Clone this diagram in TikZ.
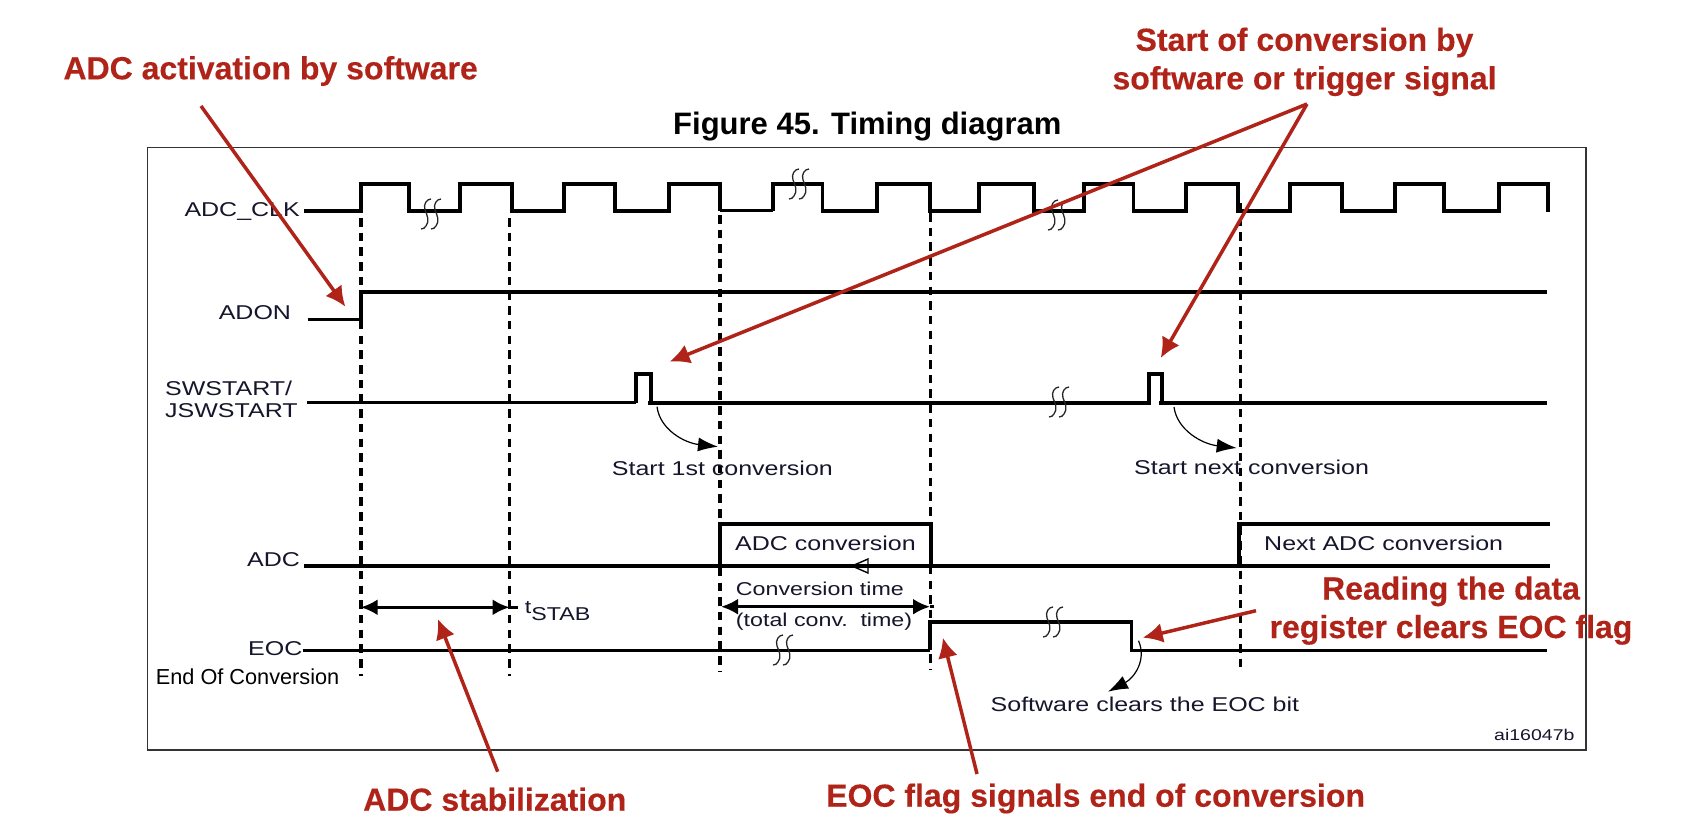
\documentclass[tikz,border=0pt]{standalone}
\usepackage{fontspec}
\usetikzlibrary{arrows.meta}
\setmainfont{Liberation Sans}
\newfontfamily\widefam[FakeStretch=1.25]{Liberation Sans}
\newfontfamily\redfam[FakeBold=0.3]{Liberation Sans Bold}
\definecolor{annot}{HTML}{B02318}
\definecolor{labelink}{HTML}{15152B}
\newcommand{\breakmark}[2]{%
  \foreach \dx in {-5,5}{
    \draw[breakline,shift={(#1+\dx,#2)}] (4,-15) .. controls (0,-15) and (-4,-10) .. (-2,-4)
      .. controls (0,1) and (3,7) .. (-1,12) .. controls (-2,14) and (-4,15) .. (-6,15);
  }}
\tikzset{
  x=1pt,y=-1pt,
  sig/.style={line width=3.8pt,black,miter limit=10},
  sigthin/.style={line width=2.6pt,black},
  dashA/.style={line width=4pt,black,dash pattern=on 8.5pt off 6.2pt},
  dashB/.style={line width=3pt,black,dash pattern=on 8.5pt off 6.2pt},
  breakline/.style={line width=1.3pt,black!85},
  note/.style={-{Latex[length=20pt,width=20pt]},line width=3.5pt,annot},
  curved/.style={-{Latex[length=20pt,width=14pt]},line width=1.2pt,black},
  span/.style={{Latex[length=17pt,width=16pt]}-{Latex[length=17pt,width=16pt]},line width=3pt,black},
  red/.style={anchor=base west,inner sep=0pt,text=annot,font=\redfam\fontsize{32}{38.5}\selectfont},
  redc/.style={red,anchor=base,align=center},
  sl/.style={anchor=base west,inner sep=0pt,text=labelink,font=\widefam\fontsize{20}{24}\selectfont},
  sm/.style={sl,font=\widefam\fontsize{18.6}{22}\selectfont},
}
\begin{document}
\begin{tikzpicture}
\useasboundingbox (0,0) rectangle (1686,840);
% frame
\node[draw=black!80,line width=1.6pt,minimum width=1438.2pt,minimum height=602.3pt,inner sep=0pt,anchor=north west] (frame) at (146.8,146.7) {};
\node[anchor=base west,inner sep=0pt,font=\fontsize{31}{36}\selectfont\bfseries,text=black] (title) at (673,135) {Figure 45. Timing diagram};

% dashed guides
\draw[dashA] (360.7,218) -- (360.7,676);
\draw[dashB] (509.6,218) -- (509.6,676);
\draw[dashA] (720,215) -- (720,672);
\draw[dashB] (930,213) -- (930,670);
\draw[dashB] (1240,203) -- (1240,670);

% ADC_CLK
\draw[sig] (304,210.7) -- (360.7,210.7) |- (408.6,184) |- (460,210.7) |- (512,184) |- (564,210.7) |- (615,184) |- (669,210.7) |- (719.6,184) -- (719.6,210.7);
\draw[sigthin] (719.6,210.7) -- (773,210.7);
\draw[sig] (773,210.7) |- (822.5,184) |- (877,210.7) |- (930,184) |- (979,210.7) |- (1034,184) |- (1084,210.7) |- (1133.5,184) |- (1186,210.7) |- (1238,184) |- (1290,210.7) |- (1342,184) |- (1395,210.7) |- (1444,184) |- (1499,210.7) |- (1548,184) -- (1548,212);
\breakmark{432}{214}
\breakmark{800}{184}
\breakmark{1059}{215}

% ADON
\draw[sig] (307.5,319.5) -- (360.7,319.5) |- (1546.7,292);

% SWSTART
\draw[sigthin] (307,402.7) -- (636,402.7);
\draw[sig] (636,402.7) |- (651,374) -- (651,402.7);
\draw[sig] (648,402.7) -- (1149,402.7) |- (1162,374) -- (1162,402.7);
\draw[sig] (1159,402.7) -- (1547,402.7);
\breakmark{1060}{402}

% ADC
\draw[sig] (304,565.7) -- (1550,565.7);
\draw[sig] (720,565.7) |- (930.7,524) -- (930.7,565.7);
\draw[sig] (1239,565.7) |- (1550,524);
\draw[line width=1.4pt,black] (852,566) -- (868,559) -- (868,573) -- cycle;

% EOC
\draw[sigthin] (302.5,650.3) -- (930,650.3);
\draw[sig] (930,650.3) |- (1131.5,621.7) -- (1131.5,650.3);
\draw[sigthin] (1130,650.3) -- (1547,650.3);
\breakmark{784}{650}
\breakmark{1054}{622}

% span arrows
\coordinate (stabL) at (360.7,607.3);
\coordinate (stabR) at (509.6,607.3);
\coordinate (stabEnd) at (517.5,607.3);
\coordinate (convL) at (721,606.7);
\coordinate (convR) at (930,606.7);
\coordinate (convEnd) at (934,606.7);
\draw[span] (stabL) -- (stabR);
\draw[line width=3pt] (stabR) -- (stabEnd);
\draw[span] (convL) -- (convR);
\draw[line width=3pt] (convR) -- (convEnd);

% signal labels
\node[sl] (lclk) at (184.3,216.7) {ADC\_CLK};
\node[sl] (ladon) at (218.6,319) {ADON};
\node[sl] (lsw) at (165,395) {SWSTART/};
\node[sl] (ljsw) at (165,417.7) {JSWSTART};
\node[sl] (ladc) at (247,566.7) {ADC};
\node[sl] (leoc) at (248,655) {EOC};
\node[anchor=base west,inner sep=0pt,text=black,font=\fontsize{21.7}{26}\selectfont] (leoclong) at (155.7,684) {End Of Conversion};
\node[sl] (l1st) at (611.7,475) {Start 1st conversion};
\node[sl] (lnext) at (1134,474.7) {Start next conversion};
\node[sl] (ladcc) at (735,550.7) {ADC conversion};
\node[sl] (lnadc) at (1264,550) {Next ADC conversion};
\node[sm] (lct) at (735.7,595) {Conversion time};
\node[sm] (ltot) at (735.7,626.7) {(total conv.\hspace{4pt} time)};
\node[sm] (ltstab) at (524.6,613) {t\raisebox{-7pt}{STAB}};
\node[sl] (lclr) at (990.5,711.7) {Software clears the EOC bit};
\node[sl,font=\widefam\fontsize{15.6}{18}\selectfont] (lai) at (1494,740.7) {ai16047b};

% curved notes
\coordinate (c1a) at (657,406.7);
\coordinate (c1b) at (718,446.7);
\coordinate (c2a) at (1174,407);
\coordinate (c2b) at (1236.7,448);
\coordinate (c3a) at (1138.5,640.7);
\coordinate (c3b) at (1108,691.7);
\draw[curved] (c1a) .. controls (660,430) and (685,443) .. (c1b);
\draw[curved] (c2a) .. controls (1177,430) and (1202,444) .. (c2b);
\draw[curved] (c3a) .. controls (1147,660) and (1134,678) .. (c3b);

% red annotations
\node[red] (ract) at (63.3,79.3) {ADC activation by software};
\node[redc] (rstart) at (1304.5,89.3) {Start of conversion by\\software or trigger signal};
\node[redc] (rread) at (1451,638) {Reading the data\\register clears EOC flag};
\node[red] (rstab) at (363,810.7) {ADC stabilization};
\node[red] (reoc) at (826,806.7) {EOC flag signals end of conversion};

\coordinate (a1s) at (201,106);
\coordinate (a1t) at (345.4,306.7);
\coordinate (a2s) at (1307,104);
\coordinate (a2t) at (669.6,361.7);
\coordinate (a3t) at (1160.7,358);
\coordinate (a4s) at (497.7,771.7);
\coordinate (a4t) at (437.9,619);
\coordinate (a5s) at (977,774);
\coordinate (a5t) at (942.9,637.7);
\coordinate (a6s) at (1256,610.7);
\coordinate (a6t) at (1142.7,637.7);
\draw[note] (a1s) -- (a1t);
\draw[note] (a2s) -- (a2t);
\draw[note] (a2s) -- (a3t);
\draw[note] (a4s) -- (a4t);
\draw[note] (a5s) -- (a5t);
\draw[note] (a6s) -- (a6t);
\end{tikzpicture}
\end{document}
